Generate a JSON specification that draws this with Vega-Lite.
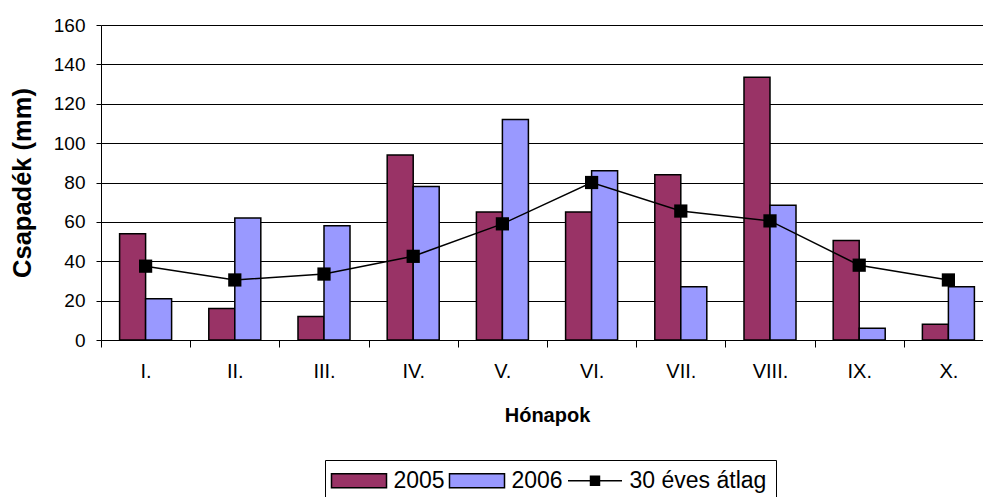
{
  "$schema": "https://vega.github.io/schema/vega-lite/v6.json",
  "width": 882,
  "height": 315,
  "autosize": "none",
  "padding": {"left": 101, "top": 25, "right": 0, "bottom": 157},
  "background": "white",
  "config": {
    "view": {"stroke": null},
    "font": "Liberation Sans",
    "axis": {"labelFont": "Liberation Sans", "titleFont": "Liberation Sans", "labelColor": "#000", "titleColor": "#000"},
    "legend": {
      "title": null,
      "orient": "none",
      "direction": "horizontal",
      "legendX": 224,
      "legendY": 435,
      "padding": 9,
      "strokeColor": "#000",
      "fillColor": "#fff",
      "labelFont": "Liberation Sans",
      "labelFontSize": 23,
      "labelColor": "#000",
      "symbolSize": 196,
      "symbolOffset": 13.5,
      "labelOffset": 23,
      "columnPadding": 1,
      "symbolStrokeWidth": 1.5,
      "symbolOpacity": 1
    }
  },
  "datasets": {
    "bars": [
      {"month": "I.", "series": "2005", "value": 54},
      {"month": "I.", "series": "2006", "value": 21},
      {"month": "II.", "series": "2005", "value": 16},
      {"month": "II.", "series": "2006", "value": 62},
      {"month": "III.", "series": "2005", "value": 12},
      {"month": "III.", "series": "2006", "value": 58},
      {"month": "IV.", "series": "2005", "value": 94},
      {"month": "IV.", "series": "2006", "value": 78},
      {"month": "V.", "series": "2005", "value": 65},
      {"month": "V.", "series": "2006", "value": 112},
      {"month": "VI.", "series": "2005", "value": 65},
      {"month": "VI.", "series": "2006", "value": 86},
      {"month": "VII.", "series": "2005", "value": 84},
      {"month": "VII.", "series": "2006", "value": 27},
      {"month": "VIII.", "series": "2005", "value": 133.5},
      {"month": "VIII.", "series": "2006", "value": 68.5},
      {"month": "IX.", "series": "2005", "value": 50.5},
      {"month": "IX.", "series": "2006", "value": 6},
      {"month": "X.", "series": "2005", "value": 8},
      {"month": "X.", "series": "2006", "value": 27}
    ],
    "avg": [
      {"month": "I.", "value": 37.5},
      {"month": "II.", "value": 30.5},
      {"month": "III.", "value": 33.5},
      {"month": "IV.", "value": 42.5},
      {"month": "V.", "value": 59},
      {"month": "VI.", "value": 80},
      {"month": "VII.", "value": 65.5},
      {"month": "VIII.", "value": 60.5},
      {"month": "IX.", "value": 38},
      {"month": "X.", "value": 30.5}
    ]
  },
  "encoding": {
    "x": {
      "field": "month",
      "type": "nominal",
      "sort": ["I.", "II.", "III.", "IV.", "V.", "VI.", "VII.", "VIII.", "IX.", "X."],
      "scale": {"range": [0, 892], "paddingInner": 0, "paddingOuter": 0},
      "axis": {
        "title": "Hónapok",
        "titleFontSize": 20,
        "titleFontWeight": "bold",
        "titleBaseline": "alphabetic",
        "titleY": 81,
        "labelAngle": 0,
        "labelFontSize": 20,
        "labelBaseline": "alphabetic",
        "labelPadding": 30,
        "tickSize": 7,
        "tickBand": "extent",
        "tickColor": "#000",
        "domainColor": "#000",
        "domainWidth": 1,
        "tickWidth": 1,
        "grid": false
      }
    },
    "y": {
      "field": "value",
      "type": "quantitative",
      "scale": {"domain": [0, 160], "nice": false},
      "axis": {
        "title": "Csapadék (mm)",
        "titleFontSize": 25.5,
        "titleFontWeight": "bold",
        "titleX": -79,
        "titleY": 157.5,
        "titleBaseline": "middle",
        "titleAlign": "center",
        "values": [0, 20, 40, 60, 80, 100, 120, 140, 160],
        "labelFontSize": 19,
        "labelPadding": 11,
        "labelOverlap": false,
        "tickSize": 5,
        "tickColor": "#000",
        "domainColor": "#000",
        "gridColor": "#000",
        "gridWidth": 1,
        "gridOpacity": 1
      }
    }
  },
  "layer": [
    {
      "data": {"name": "bars"},
      "mark": {"type": "bar", "stroke": "#000", "strokeWidth": 1.5},
      "encoding": {
        "xOffset": {"field": "series", "type": "nominal", "scale": {"paddingInner": 0, "paddingOuter": 0.715}},
        "color": {
          "field": "series",
          "type": "nominal",
          "scale": {"domain": ["2005", "2006", "30 éves átlag"], "range": ["#993366", "#9999FF", "#000000"]}
        }
      }
    },
    {
      "data": {"name": "avg"},
      "mark": {"type": "line", "color": "#000", "strokeWidth": 1.5}
    },
    {
      "data": {"name": "avg"},
      "mark": {"type": "point", "shape": "square", "filled": true, "color": "#000", "size": 175, "opacity": 1}
    },
    {
      "data": {"name": "bars"},
      "mark": {"type": "point", "filled": true, "opacity": 0, "stroke": "#000", "strokeWidth": 1.5},
      "encoding": {
        "color": {
          "field": "series",
          "type": "nominal",
          "scale": {"domain": ["2005", "2006", "30 éves átlag"], "range": ["#993366", "#9999FF", "#000000"]}
        },
        "shape": {
          "field": "series",
          "type": "nominal",
          "scale": {
            "domain": ["2005", "2006", "30 éves átlag"],
            "range": ["M-3.93,-1L3.93,-1L3.93,1L-3.93,1Z", "M-3.93,-1L3.93,-1L3.93,1L-3.93,1Z", "M-3.86,0L3.86,0M-0.64,-0.64L0.64,-0.64L0.64,0.64L-0.64,0.64Z"]
          }
        }
      }
    }
  ]
}
